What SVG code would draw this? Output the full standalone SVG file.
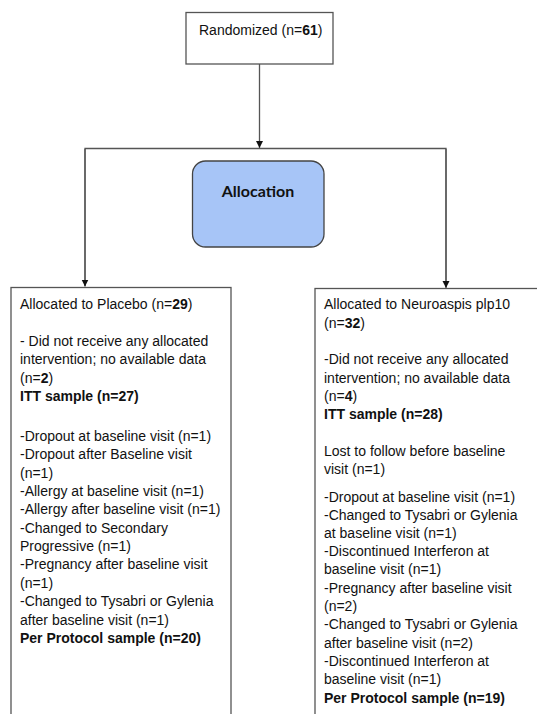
<svg xmlns="http://www.w3.org/2000/svg" width="537" height="714" viewBox="0 0 537 714">
<style>
.box{fill:#fff;stroke:#555;stroke-width:1.3}
.alloc{fill:#a7c5f7;stroke:#444;stroke-width:1.3}
.t{font-family:"Liberation Sans",Arial,sans-serif;font-size:14px;fill:#111}
.b{font-weight:bold}
.al{font-family:Lato,"Open Sans",sans-serif;font-size:16px;font-weight:bold;fill:#111}
.ln{fill:none;stroke:#555;stroke-width:1.3}
</style>
<defs>
<marker id="ah" markerWidth="8" markerHeight="8" refX="7" refY="3.5" orient="auto" markerUnits="userSpaceOnUse">
<path d="M0,0 L7,3.5 L0,7 Z" fill="#111"/>
</marker>
</defs>
<g id="connectors">
<line class="ln" x1="259.5" y1="64" x2="259.5" y2="148" marker-end="url(#ah)"/>
<polyline class="ln" points="85,286 85,148.5 446,148.5 446,287"/>
<line class="ln" x1="85" y1="149" x2="85" y2="286.5" marker-end="url(#ah)"/>
<line class="ln" x1="446" y1="149" x2="446" y2="288" marker-end="url(#ah)"/>
</g>
<g id="randomized">
<rect class="box" x="186" y="12.5" width="147" height="51.5"/>
<text class="t" x="199" y="35">Randomized (n=<tspan class="b">61</tspan>)</text>
</g>
<g id="allocation">
<rect class="alloc" x="192.5" y="161" width="131.5" height="86" rx="13"/>
<text class="al" x="258" y="197" text-anchor="middle">Allocation</text>
</g>
<g id="placebo">
<rect class="box" x="11" y="287.5" width="220" height="450"/>
<text class="t" x="20">
<tspan x="20" y="309.3">Allocated to Placebo (n=<tspan class="b">29</tspan>)</tspan>
<tspan x="20" y="345.7">- Did not receive any allocated</tspan>
<tspan x="20" y="364">intervention; no available data</tspan>
<tspan x="20" y="382.7">(n=<tspan class="b">2</tspan>)</tspan>
<tspan x="20" y="401" class="b">ITT sample (n=27)</tspan>
<tspan x="20" y="440.7">-Dropout at baseline visit (n=1)</tspan>
<tspan x="20" y="459.3">-Dropout after Baseline visit</tspan>
<tspan x="20" y="477.5">(n=1)</tspan>
<tspan x="20" y="495.5">-Allergy at baseline visit (n=1)</tspan>
<tspan x="20" y="514">-Allergy after baseline visit (n=1)</tspan>
<tspan x="20" y="532.5">-Changed to Secondary</tspan>
<tspan x="20" y="551">Progressive (n=1)</tspan>
<tspan x="20" y="569.3">-Pregnancy after baseline visit</tspan>
<tspan x="20" y="587.7">(n=1)</tspan>
<tspan x="20" y="606.2">-Changed to Tysabri or Gylenia</tspan>
<tspan x="20" y="624.5">after baseline visit (n=1)</tspan>
<tspan x="20" y="643" class="b">Per Protocol sample (n=20)</tspan>
</text>
</g>
<g id="neuroaspis">
<rect class="box" x="315" y="288.5" width="240" height="450"/>
<text class="t" x="324">
<tspan x="324" y="309.3">Allocated to Neuroaspis plp10</tspan>
<tspan x="324" y="327.7">(n=<tspan class="b">32</tspan>)</tspan>
<tspan x="324" y="364.3">-Did not receive any allocated</tspan>
<tspan x="324" y="382.7">intervention; no available data</tspan>
<tspan x="324" y="401">(n=<tspan class="b">4</tspan>)</tspan>
<tspan x="324" y="419.3" class="b">ITT sample (n=28)</tspan>
<tspan x="324" y="456">Lost to follow before baseline</tspan>
<tspan x="324" y="474.3">visit (n=1)</tspan>
<tspan x="324" y="501.5">-Dropout at baseline visit (n=1)</tspan>
<tspan x="324" y="519.5">-Changed to Tysabri or Gylenia</tspan>
<tspan x="324" y="537.8">at baseline visit (n=1)</tspan>
<tspan x="324" y="556">-Discontinued Interferon at</tspan>
<tspan x="324" y="574.4">baseline visit (n=1)</tspan>
<tspan x="324" y="592.8">-Pregnancy after baseline visit</tspan>
<tspan x="324" y="611">(n=2)</tspan>
<tspan x="324" y="629.4">-Changed to Tysabri or Gylenia</tspan>
<tspan x="324" y="647.7">after baseline visit (n=2)</tspan>
<tspan x="324" y="666">-Discontinued Interferon at</tspan>
<tspan x="324" y="684.4">baseline visit (n=1)</tspan>
<tspan x="324" y="703" class="b">Per Protocol sample (n=19)</tspan>
</text>
</g>
</svg>
